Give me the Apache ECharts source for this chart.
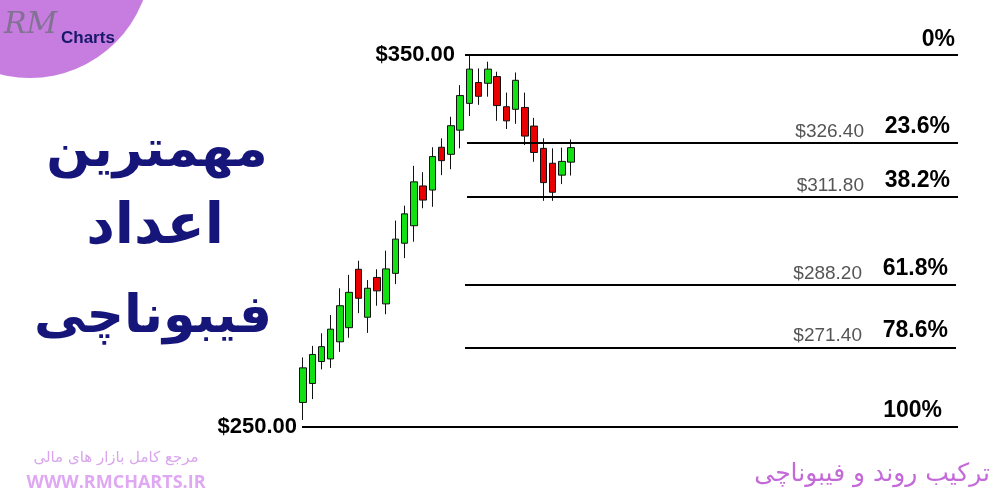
<!DOCTYPE html>
<html>
<head>
<meta charset="utf-8">
<script src="https://cdn.jsdelivr.net/npm/echarts@6/dist/echarts.min.js"></script>
<style>
html,body{margin:0;padding:0;background:#fff;}
#chart{width:1000px;height:500px;}
</style>
</head>
<body>
<div id="chart"></div>
<script>
// ---- data ----
const candleLabels = ['1','2','3','4','5','6','7','8','9','10','11','12','13','14','15','16','17','18','19','20','21','22','23','24','25','26','27','28','29','30'];
const openValues  = [256.6,261.7,267.6,268.3,272.9,276.7,292.4,279.5,290.2,283.1,291.3,299.4,304.1,314.8,313.7,325.2,323.3,329.8,337.0,342.6,342.4,344.2,336.1,335.4,335.9,330.9,324.9,320.9,317.7,321.2];
const closeValues = [265.9,269.5,271.6,276.3,282.6,286.2,284.6,287.3,286.6,292.5,300.5,307.3,315.9,311.0,322.7,321.6,331.0,339.1,346.2,338.9,346.2,336.4,332.3,343.2,328.2,323.8,315.7,313.1,321.4,325.1];
const lowValues   = [251.9,257.5,265.5,265.9,270.2,274.0,280.6,275.3,282.6,280.3,288.4,295.4,299.8,308.8,309.2,317.7,319.3,324.9,333.6,336.6,338.8,332.3,330.1,331.5,325.8,321.3,310.8,310.8,315.3,317.6];
const highValues  = [268.7,271.8,275.2,280.1,287.3,290.9,294.7,289.5,292.4,297.4,305.5,309.5,320.2,318.5,325.2,327.6,333.4,341.9,350.0,346.4,348.2,345.5,339.9,345.3,339.9,333.1,327.6,324.9,325.1,327.3];

const fibValues   = [350, 326.4, 311.8, 288.2, 271.4, 250];
const fibPercents = ['0%', '23.6%', '38.2%', '61.8%', '78.6%', '100%'];
const fibPrices   = ['$350.00', '$326.40', '$311.80', '$288.20', '$271.40', '$250.00'];

// ---- layout (pixels) ----
const lineStartX = [465, 467, 467, 465, 465, 302];
const lineEndX   = [958, 958, 958, 956, 956, 958];
const TOTAL_SLOTS = 72;

const categories = candleLabels.slice();
for (let i = categories.length; i < TOTAL_SLOTS; i++) categories.push('slot' + i);

const candleData = candleLabels.map((_, i) => [openValues[i], closeValues[i], lowValues[i], highValues[i]]);

const HIDDEN = { color: 'rgba(0,0,0,0)', width: 1 };
const markData = [];
fibValues.forEach((v, i) => {
  const isEdge = (i === 0 || i === fibValues.length - 1);
  markData.push([
    { coord: [0, v], x: lineStartX[i] },
    { coord: [0, v], x: lineEndX[i],
      label: {
        show: true,
        position: 'insideEndTop',
        formatter: fibPercents[i],
        distance: i === 0 ? [3, 4] : [i === fibValues.length - 1 ? 16 : 8, 5],
        fontFamily: 'Liberation Sans, Arial, sans-serif',
        fontWeight: 'bold',
        fontSize: 23,
        color: '#000'
      } }
  ]);
  if (!isEdge) {
    markData.push([
      { coord: [0, v], x: lineStartX[i], lineStyle: HIDDEN },
      { coord: [0, v], x: lineEndX[i], lineStyle: HIDDEN,
        label: {
          show: true,
          position: 'insideEndTop',
          formatter: fibPrices[i],
          distance: [94, 2],
          fontFamily: 'Liberation Sans, Arial, sans-serif',
          fontSize: 19,
          color: '#555'
        } }
    ]);
  } else {
    markData.push([
      { coord: [0, v], x: lineStartX[i], lineStyle: HIDDEN },
      { coord: [0, v], x: lineEndX[i], lineStyle: HIDDEN,
        label: {
          show: true,
          position: 'start',
          formatter: fibPrices[i],
          distance: i === 0 ? 10 : 5,
          fontFamily: 'Liberation Sans, Arial, sans-serif',
          fontWeight: 'bold',
          fontSize: 22,
          color: '#000'
        } }
    ]);
  }
});

const chart = echarts.init(document.getElementById('chart'), null, { renderer: 'canvas' });

const option = {
  backgroundColor: '#ffffff',
  animation: false,
  grid: { left: 298.4, top: 55, width: 665.35, height: 372 },
  xAxis: { type: 'category', data: categories, boundaryGap: true, show: false },
  yAxis: { type: 'value', min: 250, max: 350, show: false },
  graphic: [
    { type: 'circle', shape: { cx: 30, cy: -43, r: 121 }, style: { fill: '#c77ddf' }, z: 1 },
    { type: 'text', left: 4, top: 10, style: { text: 'RM', fontFamily: 'DejaVu Serif', fontStyle: 'italic', fontSize: 30, fill: '#6f6f80', opacity: 0.8 }, z: 2 },
    { type: 'text', left: 61, top: 30, style: { text: 'Charts', fontFamily: 'Liberation Sans Narrow, Liberation Sans', fontWeight: 'bold', fontSize: 17, fill: '#17186b' }, z: 2 },
    { type: 'text', x: 157, y: 152, style: { text: 'مهمترین', fontFamily: 'DejaVu Sans', fontWeight: 'bold', fontSize: 52, fill: '#16157a', align: 'center', verticalAlign: 'middle' } },
    { type: 'text', x: 155, y: 228, style: { text: 'اعداد', fontFamily: 'DejaVu Sans', fontWeight: 'bold', fontSize: 56, fill: '#16157a', align: 'center', verticalAlign: 'middle' } },
    { type: 'text', x: 153, y: 318, style: { text: 'فیبوناچی', fontFamily: 'DejaVu Sans', fontWeight: 'bold', fontSize: 52, fill: '#16157a', align: 'center', verticalAlign: 'middle' } },
    { type: 'text', x: 116, y: 458, style: { text: 'مرجع کامل بازار های مالی', fontFamily: 'DejaVu Sans', fontSize: 15, fill: '#d9a6ee', align: 'center', verticalAlign: 'middle' } },
    { type: 'text', x: 116, y: 483, style: { text: 'WWW.RMCHARTS.IR', fontFamily: 'Open Sans', fontWeight: 'bold', fontSize: 18, fill: '#dfa8f2', align: 'center', verticalAlign: 'middle' } },
    { type: 'text', x: 990, y: 474, style: { text: 'ترکیب روند و فیبوناچی', fontFamily: 'DejaVu Sans', fontSize: 25, fill: '#c46ad8', align: 'right', verticalAlign: 'middle' } }
  ],
  series: [{
    type: 'candlestick',
    data: candleData,
    barWidth: 7,
    clip: false,
    itemStyle: {
      color: '#11e011',
      color0: '#e80000',
      borderColor: '#111',
      borderColor0: '#111',
      borderWidth: 1
    },
    markLine: {
      silent: true,
      symbol: ['none', 'none'],
      animation: false,
      lineStyle: { color: '#000', width: 2, type: 'solid' },
      label: { show: false },
      emphasis: { disabled: true },
      data: markData
    }
  }]
};
chart.setOption(option);
</script>
</body>
</html>
